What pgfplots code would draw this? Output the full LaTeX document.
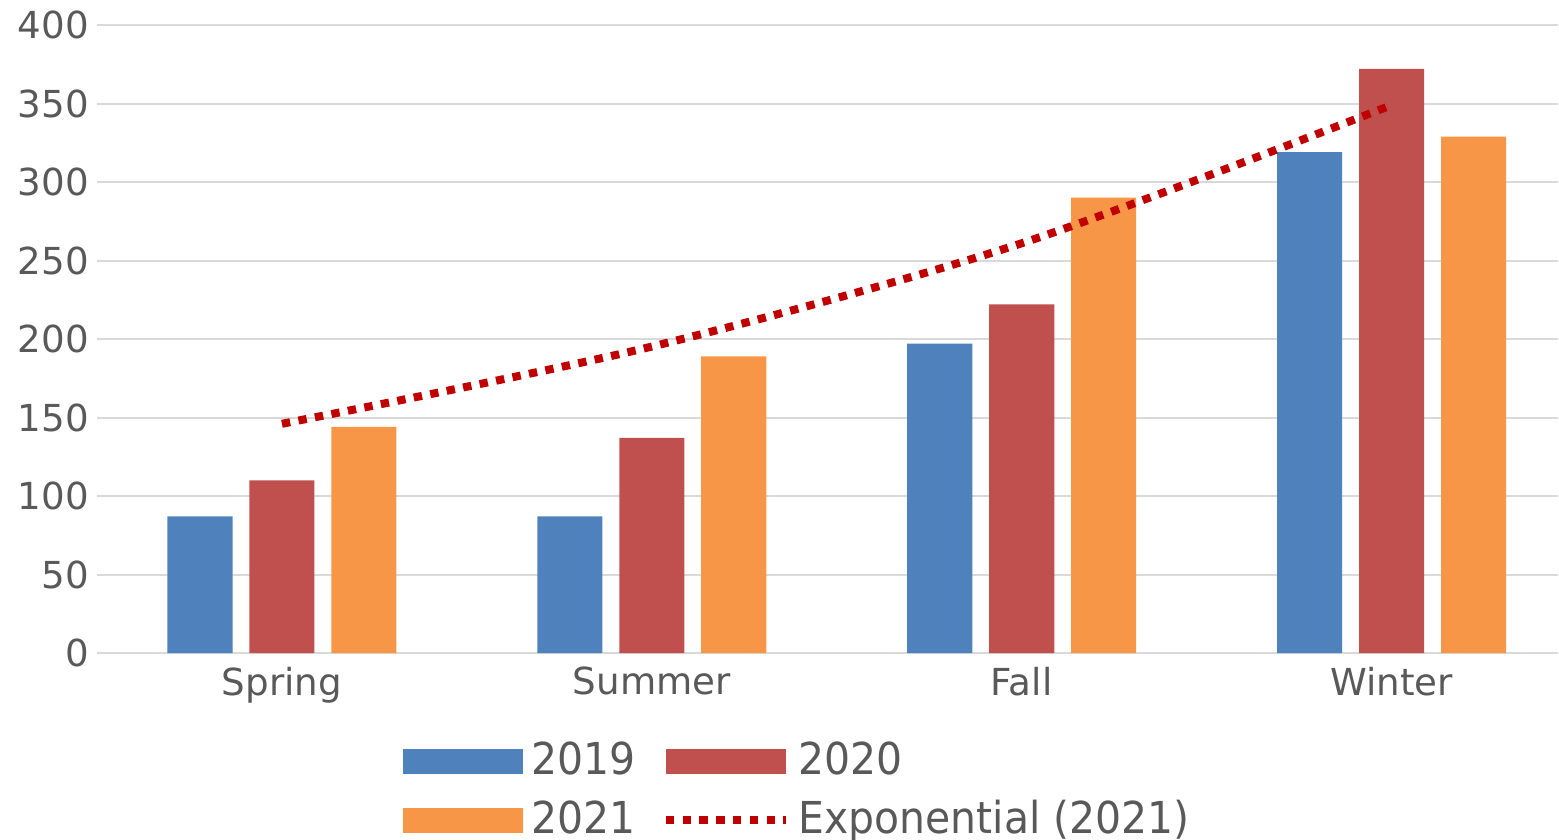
\documentclass[border=0pt]{standalone}
\usepackage{pgfplots}
\pgfplotsset{compat=1.18}
\usepackage{fontspec}
\setmainfont{DejaVu Sans}
\newfontfamily\legfont[FakeStretch=0.93]{DejaVu Sans}
\definecolor{c19}{HTML}{4F81BD}
\definecolor{c20}{HTML}{C0504D}
\definecolor{c21}{HTML}{F79646}
\definecolor{trendc}{HTML}{C00000}
\definecolor{gridc}{HTML}{D9D9D9}
\definecolor{textc}{HTML}{595959}
\begin{document}
\begin{tikzpicture}[x=1pt,y=1pt]
\useasboundingbox (0,0) rectangle (389.75,209.75);
\begin{axis}[
  at={(24.25pt,46.5pt)}, anchor=south west,
  scale only axis, width=365.25pt, height=157pt,
  xmin=-0.5, xmax=3.45, ymin=0, ymax=400,
  ybar, bar width=0.176,
  xtick={0,1,2,3}, xticklabels={Spring,Summer,Fall,Winter},
  ytick={0,50,...,400},
  ymajorgrids, grid style={line width=0.5pt, draw=gridc},
  axis x line*=bottom, axis y line*=left,
  x axis line style={draw=gridc, line width=0.5pt},
  y axis line style={draw=none},
  major tick length=0pt, tick style={draw=none},
  ticklabel style={font=\fontsize{9.3}{11}\selectfont, text=textc},
  yticklabel style={xshift=1.5pt},
  /pgf/number format/assume math mode=true,
  legend columns=2,
  legend cell align=left,
  legend style={at={(0.2088,0)}, anchor=north west, yshift=-22pt,
    draw=none, fill=none, inner sep=0pt,
    font=\legfont\fontsize{11}{13}\selectfont, text=textc,
    nodes={inner sep=0pt}, row sep=5pt,
    /tikz/every odd column/.append style={column sep=2.2pt},
    /tikz/every even column/.append style={column sep=6.5pt}},
]
\addplot[draw=none, fill=c19, bar shift=-0.2216,
  legend image code/.code={\fill[c19] (0pt,-3.1pt) rectangle (30pt,3.1pt);}]
  coordinates {(0,87) (1,87) (2,197) (3,319)};
\addplot[draw=none, fill=c20, bar shift=0,
  legend image code/.code={\fill[c20] (0pt,-3.1pt) rectangle (30pt,3.1pt);}]
  coordinates {(0,110) (1,137) (2,222) (3,372)};
\addplot[draw=none, fill=c21, bar shift=0.2216,
  legend image code/.code={\fill[c21] (0pt,-3.1pt) rectangle (30pt,3.1pt);}]
  coordinates {(0,144) (1,189) (2,290) (3,329)};
\addplot[smooth, draw=trendc, line width=2pt, dash pattern=on 2.1pt off 2.1pt,
  legend image code/.code={\draw[trendc, line width=2pt, dash pattern=on 2.1pt off 2.1pt] (0pt,0pt) -- (30pt,0pt);}]
  coordinates {(0,146) (1,195.2) (2,261) (3,349)};
\legend{2019,2020,2021,Exponential (2021)}
\end{axis}
\end{tikzpicture}
\end{document}
